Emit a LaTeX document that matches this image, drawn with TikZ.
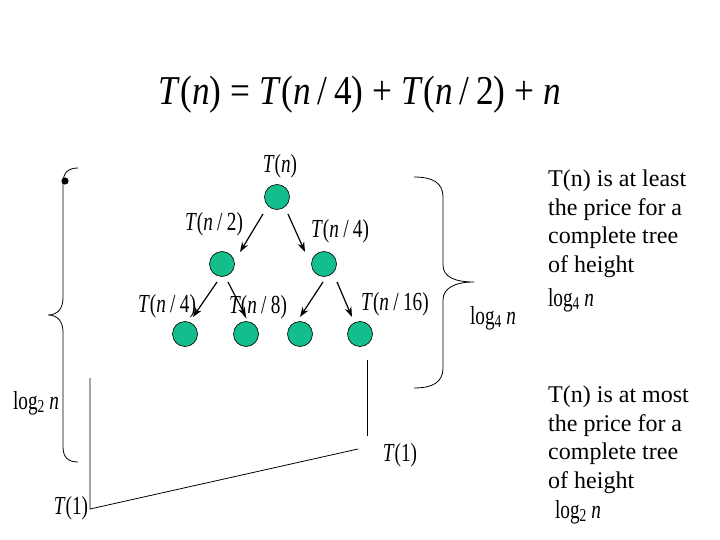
\documentclass[tikz,border=0pt]{standalone}
\usepackage{fontspec}
\setmainfont{Liberation Serif}
\newfontfamily\narrowfont{Liberation Serif}[FakeStretch=0.74]
\newfontfamily\eqfont{Liberation Serif}[FakeStretch=0.86]
\usetikzlibrary{arrows.meta}
\definecolor{tgreen}{RGB}{20,190,140}
\newcommand{\mv}[1]{\textit{#1}}
\begin{document}
\begin{tikzpicture}[x=1pt,y=-1pt,
  treenode/.style={circle,draw=black,line width=0.6pt,fill=tgreen,minimum size=25pt,inner sep=0pt},
  lab/.style={font=\narrowfont\fontsize{26}{28}\selectfont,inner sep=0pt},
  arr/.style={-{Stealth[length=10pt,width=7pt]},line width=1.2pt},
  brace/.style={line width=0.8pt},
  body/.style={font=\fontsize{24}{28.5}\selectfont,inner sep=0pt,align=left,anchor=north west}]
\useasboundingbox (0,0) rectangle (720,540);
% equation
\node[inner sep=0pt,font=\eqfont\fontsize{41}{44}\selectfont] (eq) at (360,95)
  {\mv{T}(\mv{n})\:=\:\mv{T}(\mv{n}\,/\,4)\:+\:\mv{T}(\mv{n}\,/\,2)\:+\:\mv{n}};
% tree nodes
\node[treenode] (root) at (277,197) {};
\node[treenode] (l) at (222,264) {};
\node[treenode] (r) at (324,264) {};
\node[treenode] (a) at (185,334) {};
\node[treenode] (b) at (246,334) {};
\node[treenode] (c) at (300,334) {};
\node[treenode] (d) at (360,334) {};
% labels
\node[lab] (troot) at (280,166) {\mv{T}(\mv{n})};
\node[lab] (tl) at (214,224) {\mv{T}(\mv{n}\,/\,2)};
\node[lab] (tr) at (340,231) {\mv{T}(\mv{n}\,/\,4)};
\node[lab] (ta) at (167,306) {\mv{T}(\mv{n}\,/\,4)};
\node[lab] (tb) at (258,307) {\mv{T}(\mv{n}\,/\,8)};
\node[lab] (td) at (395,304) {\mv{T}(\mv{n}\,/\,16)};
% arrows
\draw[arr] ([shift={(-14,17)}]root.center) -- ([shift={(18,-12)}]l.center);
\draw[arr] ([shift={(11,17)}]root.center) -- ([shift={(-19,-12)}]r.center);
\draw[arr] ([shift={(-5,18)}]l.center) -- ([shift={(8,-17)}]a.center);
\draw[arr] ([shift={(6,18)}]l.center) -- ([shift={(0,-17)}]b.center);
\draw[arr] ([shift={(-1,18)}]r.center) -- ([shift={(0,-17)}]c.center);
\draw[arr] ([shift={(13,18)}]r.center) -- ([shift={(-8,-17)}]d.center);
% left brace
\draw[brace] (78,168) .. controls (68,168) and (63,173) .. (63,183) -- (63,298)
  .. controls (63,308) and (58,315) .. (48,315)
  .. controls (58,315) and (63,322) .. (63,332) -- (63,447)
  .. controls (63,457) and (68,462) .. (78,462);
\fill (65,181) circle (3.6);
\node[lab] (log2l) at (36,403) {log\textsubscript{2}\,\mv{n}};
% right brace
\draw[brace] (414,177) .. controls (433,177) and (443,183) .. (443,197) -- (443,265)
  .. controls (443,277) and (455,282) .. (474,282)
  .. controls (455,282) and (443,288) .. (443,300) -- (443,368)
  .. controls (443,382) and (433,388) .. (414,388);
\node[lab] (log4m) at (493,318) {log\textsubscript{4}\,\mv{n}};
% bottom lines
\draw[line width=0.8pt] (90,378) -- (90,509) -- (358,449);
\draw[line width=0.8pt] (367,360) -- (367,436);
\node[lab] (t1a) at (71,508) {\mv{T}(1)};
\node[lab] (t1b) at (400,455) {\mv{T}(1)};
% right texts
\node[body] (txt1) at (548,170) {T(n) is at least\\the price for a\\complete tree\\of height};
\node[lab] (log4r) at (571,300) {log\textsubscript{4}\,\mv{n}};
\node[body] (txt2) at (548,386) {T(n) is at most\\the price for a\\complete tree\\of height};
\node[lab] (log2r) at (578,512) {log\textsubscript{2}\,\mv{n}};
\end{tikzpicture}
\end{document}
